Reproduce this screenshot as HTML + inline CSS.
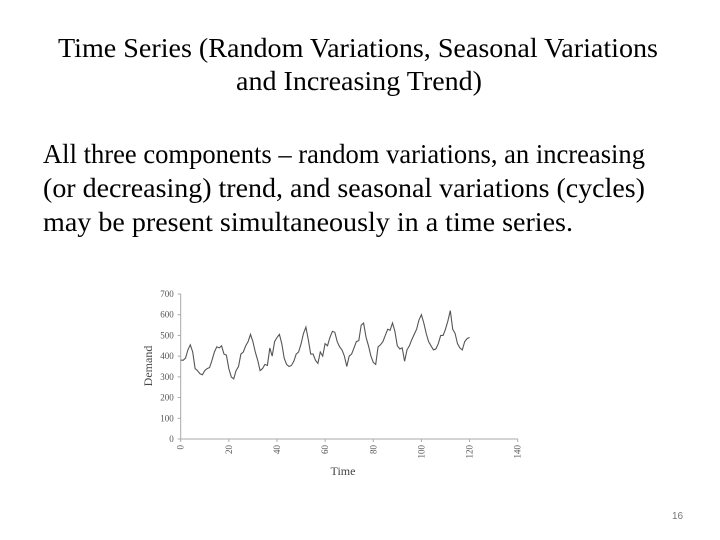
<!DOCTYPE html>
<html><head><meta charset="utf-8"><style>
html,body{margin:0;padding:0;background:#fff;}
svg{display:block;font-family:"Liberation Serif",serif;}
</style></head><body>
<svg width="720" height="540" viewBox="0 0 720 540">
<text x="58" y="57" font-size="27" textLength="600" lengthAdjust="spacingAndGlyphs">Time Series (Random Variations, Seasonal Variations</text>
<text x="236" y="90" font-size="27" textLength="246" lengthAdjust="spacingAndGlyphs">and Increasing Trend)</text>
<text x="43" y="163" font-size="27" textLength="602" lengthAdjust="spacingAndGlyphs">All three components – random variations, an increasing</text>
<text x="43" y="197" font-size="27" textLength="602" lengthAdjust="spacingAndGlyphs">(or  decreasing)  trend,  and  seasonal  variations  (cycles)</text>
<text x="43" y="231" font-size="27" textLength="530" lengthAdjust="spacingAndGlyphs">may be present simultaneously in a time series.</text>
<text x="672" y="519" font-size="10" fill="#777" font-family="Liberation Sans, sans-serif">16</text>
<g id="chart"></g>
</svg>
<script>
const xTicks=[0,20,40,60,80,100,120,140];
const yTicks=[0,100,200,300,400,500,600,700];
const demand=[381,380,390,430,455,420,340,330,315,310,330,340,345,380,420,445,440,450,410,405,340,300,290,330,350,410,420,450,470,505,470,420,380,330,340,360,355,440,400,470,490,505,460,390,360,350,355,375,410,420,460,510,540,480,410,410,380,365,420,400,460,450,490,520,515,470,445,430,400,350,400,410,440,470,475,550,560,490,450,400,370,360,445,455,470,500,530,525,560,520,450,435,440,375,430,450,480,505,530,575,600,560,510,470,450,430,435,460,500,500,530,570,620,530,510,460,440,430,470,485,490];
const NS='http://www.w3.org/2000/svg';
const g=document.getElementById('chart');
const X0=180.7,X1=517.7,Y0=439,Y1=294;
const xs=v=>X0+(v-0)/140*(X1-X0);
const ys=v=>Y0-(v/700)*(Y0-Y1);
function mk(t,a){const e=document.createElementNS(NS,t);for(const k in a)e.setAttribute(k,a[k]);g.appendChild(e);return e;}
let ax=mk('path',{d:`M${X0} ${Y1}V${Y0}H${X1}`,stroke:'#aaa',fill:'none','stroke-width':1});


yTicks.forEach(v=>{
 const t=mk('text',{x:X0-7,y:ys(v)+3,'font-size':9,'text-anchor':'end',fill:'#555'});
 t.textContent=v;
 
 
 const l=mk('line',{x1:X0-3,x2:X0,y1:ys(v),y2:ys(v),stroke:'#aaa'});
 
 
});
xTicks.forEach(v=>{
 const x=xs(v);
 const t=mk('text',{x:0,y:0,'font-size':9,'text-anchor':'end',fill:'#555',transform:`translate(${x+3},${Y0+6}) rotate(-90)`});
 t.textContent=v;
 
 
 const l=mk('line',{x1:x,x2:x,y1:Y0,y2:Y0+3,stroke:'#aaa'});
 
 
});
const yt=mk('text',{x:0,y:0,'font-size':12,'text-anchor':'middle',fill:'#444',transform:'translate(152,366) rotate(-90)'});
yt.textContent='Demand';


const xt=mk('text',{x:343,y:475,'font-size':12,'text-anchor':'middle',fill:'#444'});
xt.textContent='Time';


const line=mk('polyline',{points:demand.map((v,i)=>xs(i).toFixed(1)+','+ys(v).toFixed(1)).join(' '),fill:'none',stroke:'#555','stroke-width':1.1});


</script>
</body></html>
